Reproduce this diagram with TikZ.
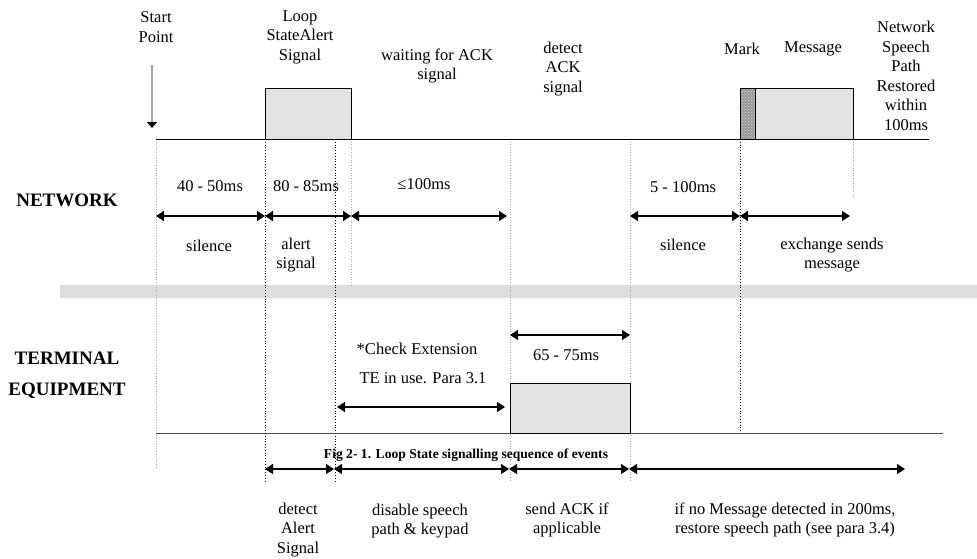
\documentclass[tikz,border=0pt]{standalone}
\usepackage{fontspec}
\setmainfont{Liberation Serif}
\usetikzlibrary{arrows.meta,patterns}

\tikzset{
  lbl/.style={align=center,inner sep=0pt,font=\fontsize{16.5}{19.5}\selectfont},
  side/.style={align=center,inner sep=0pt,font=\fontsize{19}{31}\selectfont\bfseries},
  span/.style={{Triangle[length=8pt,width=10pt]}-{Triangle[length=8pt,width=10pt]},line width=1.3pt},
  sigbox/.style={draw,fill=gray!22,line width=0.9pt},
  guide/.style={dotted,gray!65,line width=0.6pt},
  guideblk/.style={dotted,black,line width=0.8pt}
}

\begin{document}
\begin{tikzpicture}[x=1pt,y=-1pt]
  \useasboundingbox (0,0) rectangle (977,558);

  % gray separator band
  \fill[gray!27] (60,285) rectangle (977,298);

  % time guides
  \foreach \x/\y in {156/467,351/285,510/480,630/480,853/197}
    \draw[guide] (\x,139) -- (\x,\y);
  \foreach \x/\y in {265/482,335/482,740/433}
    \draw[guideblk] (\x,139) -- (\x,\y);

  % time lines
  \coordinate (nL) at (156,139);
  \coordinate (nR) at (929,139);
  \coordinate (tL) at (156,433);
  \coordinate (tR) at (943,433);
  \draw[line width=0.9pt] (nL) -- (nR);
  \draw[line width=0.9pt,black!70] (tL) -- (tR);

  % signal boxes
  \draw[sigbox] (265,88) rectangle (351,139);
  \fill[gray!80] (740,88) rectangle (755,139);
  \fill[pattern=crosshatch dots,pattern color=gray!30] (740,88) rectangle (755,139);
  \draw[line width=0.9pt] (740,88) rectangle (755,139);
  \draw[sigbox] (755,88) rectangle (853,139);
  \draw[sigbox] (510,383) rectangle (630,433);

  % start marker
  \node[lbl] (start) at (156,27) {Start\\Point};
  \coordinate (s0) at (152,65);
  \coordinate (s1) at (152,128);
  \draw[gray!70,line width=1.5pt,-{Triangle[length=6pt,width=10pt,color=black]}] (s0) -- (s1);

  % top labels
  \node[lbl] (alert) at (300,37) {Loop\\StateAlert\\Signal};
  \node[lbl] (wait) at (437,66) {waiting for ACK\\signal};
  \node[lbl] (detack) at (563,69) {detect\\ACK\\signal};
  \node[lbl] (mark) at (742,49) {Mark};
  \node[lbl] (msg) at (813,49) {Message};
  \node[lbl] (restored) at (906,76) {Network\\Speech\\Path\\Restored\\within\\100ms};

  % side titles
  \node[side] (net) at (67,200) {NETWORK};
  \node[side] (term) at (67,375) {TERMINAL\\EQUIPMENT};

  % network durations
  \foreach \n/\x in {a/156,b/265,c/351,d/507,e/630,f/740,g/850}
    \coordinate (n\n) at (\x,216);
  \draw[span] (na) -- (nb);
  \draw[span] (nb) -- (nc);
  \draw[span] (nc) -- (nd);
  \draw[span] (ne) -- (nf);
  \draw[span] (nf) -- (ng);
  \node[lbl] (d1) at (210,186) {40 - 50ms};
  \node[lbl] (d2) at (306,186) {80 - 85ms};
  \node[lbl] (d3) at (424,184) {≤100ms};
  \node[lbl] (d4) at (683,187) {5 - 100ms};
  \node[lbl] (e1) at (209,246) {silence};
  \node[lbl] (e2) at (296,255) {alert\\signal};
  \node[lbl] (e3) at (683,245) {silence};
  \node[lbl] (e4) at (832,255) {exchange sends\\message};

  % terminal equipment durations
  \coordinate (k0) at (510,335);
  \coordinate (k1) at (630,335);
  \coordinate (c0) at (337,407);
  \coordinate (c1) at (505,407);
  \draw[span,line width=1.1pt] (k0) -- (k1);
  \draw[span,line width=1.1pt] (c0) -- (c1);
  \node[lbl] (ack) at (566,355) {65 - 75ms};
  \node[lbl] (chk) at (417,349) {*Check Extension};
  \node[lbl] (inuse) at (423,378) {TE in use. Para 3.1};

  \node[inner sep=0pt,font=\fontsize{13.6}{16}\selectfont\bfseries] (cap) at (466,455)
    {Fig 2- 1. Loop State signalling sequence of events};

  % terminal actions
  \foreach \n/\x in {a/265,b/334,c/509,d/629,e/905}
    \coordinate (b\n) at (\x,469);
  \draw[span] (ba) -- (bb);
  \draw[span] (bb) -- (bc);
  \draw[span] (bc) -- (bd);
  \draw[span] (bd) -- (be);
  \node[lbl] (a1) at (298,530) {detect\\Alert\\Signal};
  \node[lbl] (a2) at (420,521) {disable speech\\path \& keypad};
  \node[lbl] (a3) at (567,520) {send ACK if\\applicable};
  \node[lbl] (a4) at (785,520) {if no Message detected in 200ms,\\restore speech path (see para 3.4)};
\end{tikzpicture}
\end{document}
